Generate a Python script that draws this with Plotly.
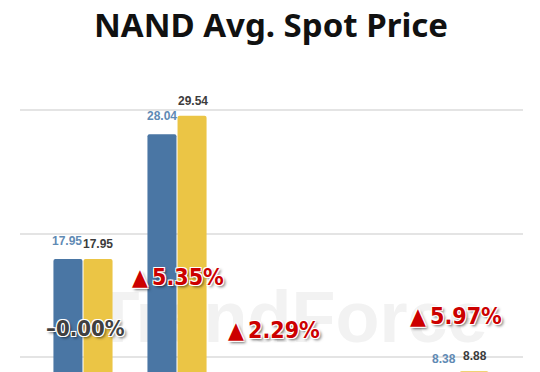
import plotly.graph_objects as go

# ---- data ----
categories = ["SLC 1Gb", "MLC 32Gb", "MLC 64Gb", "TLC 256Gb", "TLC 512Gb"]
prev_price = [17.95, 28.04, 4.37, 3.20, 8.38]
curr_price = [17.95, 29.54, 4.47, 3.24, 8.88]
change_text = ["\u20130.00%", "\u25B2\u20095.35%", "\u25B2\u20092.29%", None, "\u25B2\u20095.97%"]
change_up = [False, True, True, True, True]

BLUE = "#4a76a4"
YELLOW = "#ebc545"

H = 513          # figure is taller than the window; the window crops it like the reference
VISIBLE_MIN = 8.0  # values below this sit outside the photographed window

fig = go.Figure()
fig.add_trace(go.Bar(x=categories, y=prev_price, name="Previous",
                     marker=dict(color=BLUE, line=dict(width=0))))
fig.add_trace(go.Bar(x=categories, y=curr_price, name="Current",
                     marker=dict(color=YELLOW, line=dict(width=0))))

annotations = []
# value labels
for c, v in zip(categories, prev_price):
    if v < VISIBLE_MIN:
        continue
    annotations.append(dict(x=c, y=v, text=f"{v:.2f}", showarrow=False,
                            xshift=-15.5, yshift=18, yanchor="middle",
                            font=dict(family="Liberation Sans, Arial", size=12,
                                      color="#5f8ab4", weight="bold")))
for c, v in zip(categories, curr_price):
    if v < VISIBLE_MIN:
        continue
    annotations.append(dict(x=c, y=v, text=f"{v:.2f}", showarrow=False,
                            xshift=15.5, yshift=15, yanchor="middle",
                            font=dict(family="Liberation Sans, Arial", size=12,
                                      color="#3c3c3c", weight="bold")))

# change labels (vertical anchor in data units)
label_y = [12.35, 16.48, 12.19, None, 13.32]
label_dx = [3, 1, 3, 0, -3]
label_size = [22, 23, 23, 23, 23]
outline = ("1px 1px 0 #fff, -1px -1px 0 #fff, 1px -1px 0 #fff, -1px 1px 0 #fff, "
           "2px 2px 3px rgba(0,0,0,0.6)")
for c, t, up, ly, dx, sz in zip(categories, change_text, change_up, label_y, label_dx, label_size):
    if t is None:
        continue
    annotations.append(dict(x=c, y=ly, text=t, showarrow=False, xshift=dx,
                            yanchor="middle",
                            font=dict(family="DejaVu Sans Condensed",
                                      size=sz, weight="bold",
                                      color="#cc0000" if up else "#404040",
                                      shadow=outline)))

fig.update_layout(
    width=540, height=H,
    margin=dict(l=12, r=25, t=62, b=40),
    paper_bgcolor="white", plot_bgcolor="white",
    barmode="group", bargap=0.36, bargroupgap=0.035,
    showlegend=False,
    barcornerradius=2,
    title=dict(text="NAND Avg. Spot Price", x=263 / 540, xanchor="center",
               y=1 - 17 / H, yanchor="middle",
               font=dict(family="Noto Sans", size=33, color="#111111", weight="bold")),
    xaxis=dict(range=[-0.67, 4.68], showticklabels=False, showgrid=False,
               zeroline=False, showline=False, ticks=""),
    yaxis=dict(range=[0, 33.24], dtick=10, tick0=0, showticklabels=False,
               showgrid=True, gridcolor="#e4e4e4", gridwidth=1.5,
               zeroline=False, showline=False, ticks=""),
    annotations=annotations,
    shapes=[
        dict(type="rect", xref="paper", yref="y", x0=0.0, x1=1.0, y0=11.0, y1=16.6,
             layer="below", line=dict(width=0), fillcolor="rgba(0,0,0,0)",
             label=dict(text="<b>i TrendForce</b>", textposition="middle center",
                        font=dict(family="Liberation Sans, Arial", size=72,
                                  color="#f2f2f2"))),
    ],
)

fig.write_html("out.html")
